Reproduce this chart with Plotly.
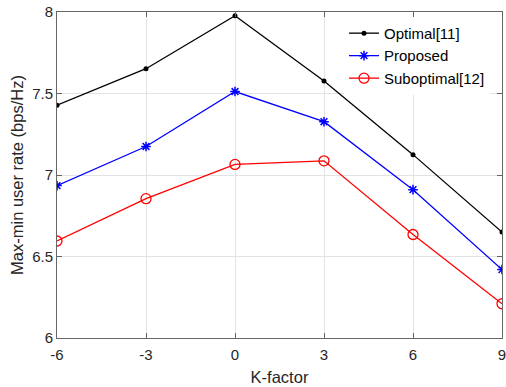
import plotly.graph_objects as go

k_factor = [-6, -3, 0, 3, 6, 9]
optimal = [7.428, 7.652, 7.977, 7.577, 7.125, 6.65]
proposed = [6.935, 7.175, 7.512, 7.327, 6.91, 6.42]
suboptimal = [6.595, 6.855, 7.065, 7.087, 6.635, 6.21]

x_ticks = [-6, -3, 0, 3, 6, 9]
y_ticks = [6, 6.5, 7, 7.5, 8]

FONT = "Liberation Sans, Arial"

fig = go.Figure()
fig.add_trace(go.Scatter(x=k_factor, y=optimal, name="Optimal[11]", mode="lines+markers",
                         line=dict(color="black", width=1.3),
                         marker=dict(symbol="circle", size=5, color="black")))
fig.add_trace(go.Scatter(x=k_factor, y=proposed, name="Proposed", mode="lines+markers",
                         line=dict(color="blue", width=1.3),
                         marker=dict(symbol="asterisk-open", size=8, color="blue",
                                     line=dict(color="blue", width=1.5))))
fig.add_trace(go.Scatter(x=k_factor, y=suboptimal, name="Suboptimal[12]", mode="lines+markers",
                         line=dict(color="red", width=1.3),
                         marker=dict(symbol="circle-open", size=10, color="red",
                                     line=dict(color="red", width=1.3))))

axis_common = dict(showline=True, linecolor="#666666", linewidth=1, mirror="ticks",
                   ticks="inside", ticklen=5, tickcolor="#666666",
                   showgrid=True, gridcolor="#e3e3e3", gridwidth=1, zeroline=False,
                   ticklabeloverflow="allow", automargin=False,
                   tickfont=dict(family=FONT, size=15, color="#262626"))

fig.update_xaxes(range=[-6, 9], tickvals=x_ticks, ticktext=[str(v) for v in x_ticks],
                 ticklabelstandoff=3,
                 title=dict(text="K-factor", standoff=9,
                            font=dict(family=FONT, size=16.5, color="#262626")),
                 **axis_common)
fig.update_yaxes(range=[6, 8], tickvals=y_ticks, ticktext=["6", "6.5", "7", "7.5", "8"],
                 title=dict(text="Max-min user rate (bps/Hz)", standoff=4,
                            font=dict(family=FONT, size=16.5, color="#262626")),
                 **axis_common)

fig.update_layout(
    width=506, height=387,
    margin=dict(l=57, r=4, t=12, b=49),
    plot_bgcolor="white", paper_bgcolor="white",
    showlegend=True,
    legend=dict(x=0.645, y=0.985, xanchor="left", yanchor="top",
                bgcolor="rgba(255,255,255,1)", borderwidth=0,
                font=dict(family=FONT, size=15, color="black"),
                tracegroupgap=0, itemwidth=30),
)

fig.write_html("out.html")
